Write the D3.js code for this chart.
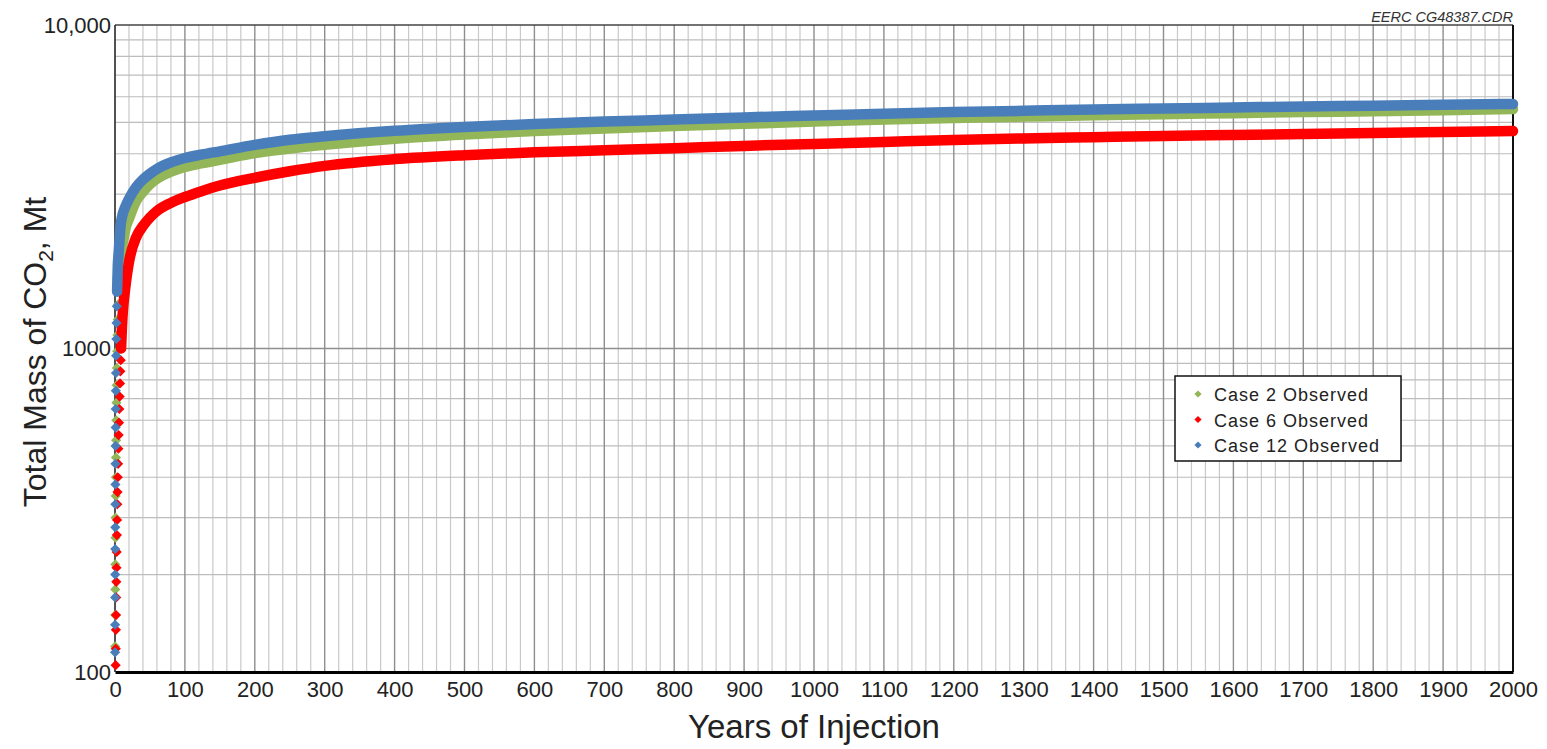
<!DOCTYPE html>
<meta charset="utf-8" />
<script src="https://d3js.org/d3.v7.min.js"></script>
<body style="margin: 0; background-color: #ffffff">
  <div id="chart"></div>
  <script>
    // years of injection and total mass of CO2 (Mt)
    var years = [10, 15, 20, 30, 40, 50, 60, 80, 100, 125, 150, 200, 250, 300, 400, 500,
      600, 700, 800, 900, 1000, 1100, 1200, 1300, 1400, 1500, 1600, 1700, 1800, 1900, 2000];

    var case2 = [2050, 2350, 2520, 2850, 3050, 3220, 3350, 3520, 3640, 3740, 3830, 4020, 4150,
      4260, 4450, 4590, 4700, 4790, 4870, 4950, 5030, 5100, 5160, 5210, 5260, 5300, 5340,
      5380, 5410, 5450, 5500];
    var case6 = [1170, 1560, 1850, 2200, 2390, 2540, 2660, 2820, 2940, 3070, 3190, 3370, 3530,
      3670, 3850, 3960, 4040, 4100, 4160, 4230, 4290, 4350, 4410, 4460, 4500, 4540, 4570,
      4600, 4640, 4670, 4700];
    var case12 = [2550, 2750, 2900, 3150, 3330, 3470, 3590, 3760, 3880, 3980, 4070, 4260, 4420,
      4530, 4710, 4840, 4940, 5030, 5100, 5180, 5250, 5320, 5380, 5430, 5480, 5520, 5560,
      5600, 5630, 5670, 5700];

    // first years: scattered observations near the axis
    var case2EarlyYears = [0.2, 0.3, 0.4, 0.5, 0.7, 0.8, 1.0, 1.2, 1.4, 1.6, 1.8, 2.1, 2.4, 2.7,
      3.0, 3.5, 4, 4.5, 5, 6, 7, 8];
    var case2Early = [120, 150, 180, 215, 260, 300, 350, 400, 460, 520, 600, 680, 770, 870,
      980, 1100, 1230, 1370, 1500, 1650, 1800, 1950];
    var case6EarlyYears = [0.9, 1.1, 1.3, 1.5, 1.7, 1.9, 2.1, 2.4, 2.7, 3.0, 3.3, 3.6, 4.0, 4.4,
      4.8, 5.2, 5.7, 6.2, 6.7, 7.2, 7.7, 8.2, 8.7, 9.3];
    var case6Early = [105, 118, 135, 150, 170, 190, 210, 235, 265, 295, 330, 360, 400, 440,
      490, 540, 590, 650, 710, 780, 850, 920, 1000, 1080];
    var case12EarlyYears = [0.1, 0.15, 0.2, 0.3, 0.35, 0.4, 0.5, 0.6, 0.7, 0.8, 0.9, 1.0, 1.2,
      1.4, 1.6, 1.9, 2.2, 2.6, 3.0, 3.5, 4, 5, 6, 7, 8];
    var case12Early = [115, 140, 170, 200, 240, 280, 330, 380, 440, 500, 570, 650, 740, 840,
      950, 1070, 1200, 1350, 1500, 1650, 1800, 1950, 2100, 2250, 2400];

    var xTicks = d3.range(0, 2001, 100);
    var yTicks = [100, 1000, 10000];
    var yTickLabels = ["100", "1000", "10,000"];

    var series = [
      { name: "Case 2 Observed", color: "#93b658", values: case2, early: case2Early, earlyYears: case2EarlyYears, solidFrom: 1400 },
      { name: "Case 6 Observed", color: "#ff0000", values: case6, early: case6Early, earlyYears: case6EarlyYears, solidFrom: 1000 },
      { name: "Case 12 Observed", color: "#4a7ebb", values: case12, early: case12Early, earlyYears: case12EarlyYears, solidFrom: 1450 }
    ];

    var margin = { top: 25, right: 34, bottom: 77, left: 115 },
      width = 1547 - margin.left - margin.right,
      height = 749 - margin.top - margin.bottom;

    var font = "Arial, 'Liberation Sans', Helvetica, sans-serif";

    var root = d3
      .select("#chart")
      .append("svg")
      .attr("width", 1547)
      .attr("height", 749)
      .style("font-family", font);

    var svg = root
      .append("g")
      .attr("transform", "translate(" + margin.left + "," + margin.top + ")");

    var x = d3.scaleLinear().domain([0, 2000]).range([0, width]);
    var y = d3.scaleLog().domain([100, 10000]).range([height, 0]);

    // grid
    var minorX = d3.range(0, 2001, 20).filter(function (d) { return d % 100 !== 0; });
    svg.append("g")
      .selectAll("line")
      .data(minorX)
      .enter()
      .append("line")
      .attr("x1", function (d) { return x(d); })
      .attr("x2", function (d) { return x(d); })
      .attr("y1", 0)
      .attr("y2", height)
      .attr("stroke", "#c9c9c9")
      .attr("stroke-width", 1.2);

    var minorY = [];
    [100, 1000].forEach(function (dec) {
      for (var k = 2; k <= 9; k++) minorY.push(dec * k);
    });
    svg.append("g")
      .selectAll("line")
      .data(minorY)
      .enter()
      .append("line")
      .attr("x1", 0)
      .attr("x2", width)
      .attr("y1", function (d) { return y(d); })
      .attr("y2", function (d) { return y(d); })
      .attr("stroke", "#bdbdbd")
      .attr("stroke-width", 1.2);

    svg.append("g")
      .selectAll("line")
      .data(xTicks)
      .enter()
      .append("line")
      .attr("x1", function (d) { return x(d); })
      .attr("x2", function (d) { return x(d); })
      .attr("y1", 0)
      .attr("y2", height)
      .attr("stroke", "#8e8e8e")
      .attr("stroke-width", 1.4);

    svg.append("line")
      .attr("x1", 0)
      .attr("x2", width)
      .attr("y1", y(1000))
      .attr("y2", y(1000))
      .attr("stroke", "#8e8e8e")
      .attr("stroke-width", 1.4);

    // frame
    svg.append("line").attr("x1", 0).attr("x2", width).attr("y1", 0).attr("y2", 0)
      .attr("stroke", "#444").attr("stroke-width", 1.5);
    svg.append("line").attr("x1", width).attr("x2", width).attr("y1", 0).attr("y2", height)
      .attr("stroke", "#111").attr("stroke-width", 2);
    svg.append("line").attr("x1", 0).attr("x2", 0).attr("y1", 0).attr("y2", height)
      .attr("stroke", "#333").attr("stroke-width", 1.5);

    // axes
    var xAxis = svg.append("g")
      .attr("transform", "translate(0," + height + ")")
      .call(d3.axisBottom(x).tickValues(xTicks).tickSize(0).tickPadding(9).tickFormat(d3.format("d")));
    xAxis.select(".domain").attr("stroke", "#000").attr("stroke-width", 3);
    xAxis.selectAll("text").style("font-size", "22px").style("font-family", font).attr("fill", "#222");

    var yAxis = svg.append("g")
      .call(d3.axisLeft(y).tickValues(yTicks).tickSize(0).tickPadding(4)
        .tickFormat(function (d, i) { return yTickLabels[i]; }));
    yAxis.select(".domain").remove();
    yAxis.selectAll("text").style("font-size", "22px").style("font-family", font).attr("fill", "#222");

    // series
    var line = d3.line()
      .x(function (d) { return x(d[0]); })
      .y(function (d) { return y(d[1]); })
      .curve(d3.curveMonotoneX);

    var diamond = d3.symbol().type(d3.symbolSquare).size(52);

    series.forEach(function (s) {
      var pts = years.map(function (yr, i) { return [yr, s.values[i]]; });
      var early = s.earlyYears.map(function (yr, i) { return [yr, s.early[i]]; });
      var all = early.concat(pts);

      svg.append("path")
        .datum(all.filter(function (d) { return d[1] >= s.solidFrom; }))
        .attr("d", line)
        .attr("fill", "none")
        .attr("stroke", s.color)
        .attr("stroke-width", 10.5)
        .attr("stroke-linejoin", "round")
        .attr("stroke-linecap", "round");

      svg.append("g")
        .selectAll("path")
        .data(all)
        .enter()
        .append("path")
        .attr("d", diamond)
        .attr("transform", function (d) {
          return "translate(" + x(d[0]) + "," + y(d[1]) + ") rotate(45)";
        })
        .attr("fill", s.color);
    });

    // axis titles
    root.append("text")
      .attr("x", margin.left + width / 2)
      .attr("y", 738)
      .attr("text-anchor", "middle")
      .style("font-size", "33px")
      .attr("fill", "#222")
      .text("Years of Injection");

    var yTitle = root.append("text")
      .attr("transform", "translate(46," + 352 + ") rotate(-90)")
      .attr("text-anchor", "middle")
      .style("font-size", "32px")
      .attr("fill", "#222");
    yTitle.append("tspan").text("Total Mass of CO");
    yTitle.append("tspan").attr("dy", 7).style("font-size", "21px").text("2");
    yTitle.append("tspan").attr("dy", -7).text(", Mt");

    root.append("text")
      .attr("x", 1513)
      .attr("y", 22)
      .attr("text-anchor", "end")
      .style("font-size", "14.5px")
      .style("font-style", "italic")
      .attr("fill", "#333")
      .text("EERC CG48387.CDR");

    // legend
    var legend = root.append("g");
    legend.append("rect")
      .attr("x", 1175)
      .attr("y", 376)
      .attr("width", 226)
      .attr("height", 85)
      .attr("fill", "#fff")
      .attr("stroke", "#111")
      .attr("stroke-width", 1.5);

    var legendSymbol = d3.symbol().type(d3.symbolSquare).size(26);
    series.forEach(function (s, i) {
      var ly = 394 + i * 25.5;
      legend.append("path")
        .attr("d", legendSymbol)
        .attr("transform", "translate(1198," + ly + ") rotate(45)")
        .attr("fill", s.color);
      legend.append("text")
        .attr("x", 1214)
        .attr("y", ly + 7)
        .style("font-size", "18px")
        .style("letter-spacing", "1px")
        .attr("fill", "#222")
        .text(s.name);
    });
  </script>
</body>
